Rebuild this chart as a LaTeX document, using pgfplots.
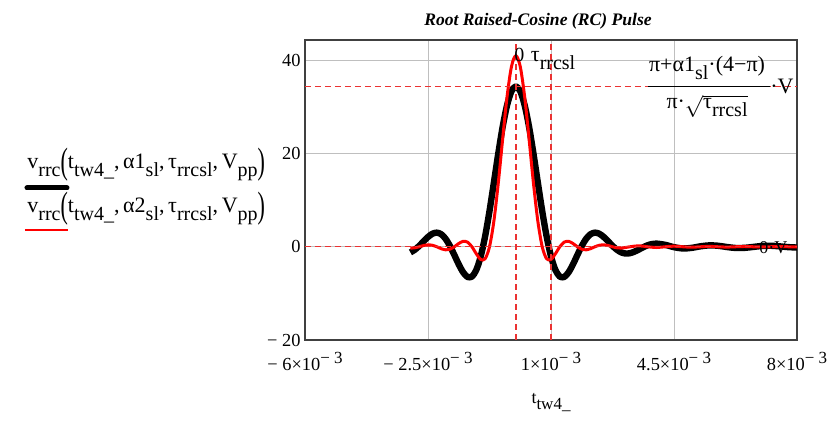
\documentclass[border=0pt]{standalone}
\usepackage{fontspec}
\setmainfont{Liberation Serif}
\usepackage{graphicx}
\usepackage{pgfplots}
\pgfplotsset{compat=1.18}
\usepackage{pgfplotstable}

\pgfplotstableread{
t v
-0.003 -1.21
-0.002875 -0.64
-0.00275 0.19
-0.002625 1.17
-0.0025 2.10
-0.002375 2.79
-0.00225 3.03
-0.002125 2.69
-0.002 1.71
-0.001875 0.16
-0.00175 -1.77
-0.001625 -3.78
-0.0015 -5.48
-0.001375 -6.48
-0.00125 -6.40
-0.001125 -4.97
-0.001 -2.07
-0.000875 2.23
-0.00075 7.66
-0.000625 13.78
-0.0005 20.02
-0.000375 25.75
-0.00025 30.37
-0.000125 33.36
0 34.40
0.000125 33.36
0.00025 30.37
0.000375 25.75
0.0005 20.02
0.000625 13.78
0.00075 7.66
0.000875 2.23
0.001 -2.07
0.001125 -4.97
0.00125 -6.40
0.001375 -6.48
0.0015 -5.48
0.001625 -3.78
0.00175 -1.77
0.001875 0.16
0.002 1.71
0.002125 2.69
0.00225 3.03
0.002375 2.79
0.0025 2.10
0.002625 1.17
0.00275 0.19
0.002875 -0.64
0.003 -1.21
0.003125 -1.45
0.00325 -1.37
0.003375 -1.05
0.0035 -0.59
0.003625 -0.10
0.00375 0.32
0.003875 0.59
0.004 0.68
0.00425 0.41
0.0045 -0.09
0.00475 -0.37
0.005 -0.24
0.00525 0.09
0.0055 0.30
0.00575 0.22
0.006 -0.05
0.00625 -0.26
0.0065 -0.24
0.00675 -0.04
0.007 0.17
0.00725 0.22
0.0075 0.09
0.00775 -0.08
0.008 -0.16
}\blackdata

\pgfplotstableread{
t v
-0.003 -0.29
-0.002875 -0.22
-0.00275 0
-0.002625 0.27
-0.0025 0.41
-0.002375 0.32
-0.00225 0
-0.002125 -0.41
-0.002 -0.65
-0.001875 -0.52
-0.00175 0
-0.001625 0.70
-0.0015 1.17
-0.001375 0.99
-0.00125 0
-0.001125 -1.51
-0.001 -2.73
-0.000875 -2.58
-0.00075 0
-0.000625 5.52
-0.0005 13.67
-0.000375 23.19
-0.00025 32.20
-0.000125 38.65
0 41.00
0.000125 38.65
0.00025 32.20
0.000375 23.19
0.0005 13.67
0.000625 5.52
0.00075 0
0.000875 -2.58
0.001 -2.73
0.001125 -1.51
0.00125 0
0.001375 0.99
0.0015 1.17
0.001625 0.70
0.00175 0
0.001875 -0.52
0.002 -0.65
0.002125 -0.41
0.00225 0
0.002375 0.32
0.0025 0.41
0.002625 0.27
0.00275 0
0.002875 -0.22
0.003 -0.29
0.00325 0
0.0035 0.21
0.00375 0
0.004 -0.16
0.00425 0
0.0045 0.13
0.00475 0
0.005 -0.10
0.00525 0
0.0055 0.085
0.00575 0
0.006 -0.07
0.00625 0
0.0065 0.06
0.00675 0
0.007 -0.05
0.00725 0
0.0075 0.05
0.00775 0
0.008 -0.04
}\reddata

\definecolor{mk}{RGB}{235,50,50}
\newcommand{\sub}[1]{\raisebox{-4pt}{\fontsize{10}{12}\selectfont #1}}
\newcommand{\xsub}[1]{\raisebox{-3pt}{\fontsize{8.5}{10}\selectfont #1}}
\newcommand{\bigp}[1]{\raisebox{-2.2pt}{\scalebox{1}[1.67]{#1}}}
\newcommand{\sci}[2]{#1×10\raisebox{3.5pt}{\fontsize{8.5}{9}\selectfont − #2}}
\tikzset{mkline/.style={color=mk, line width=0.6pt, dash pattern=on 3pt off 2pt}}

\begin{document}
\fontsize{9}{11}\selectfont
\begin{tikzpicture}
\begin{axis}[
  scale only axis, width=246pt, height=150pt,
  xmin=-0.006, xmax=0.008, ymin=-20, ymax=44.35,
  scaled x ticks=false,
  xtick={-0.006,-0.0025,0.001,0.0045,0.008},
  xticklabels={\sci{− 6}{3},\sci{− 2.5}{3},\sci{1}{3},\sci{4.5}{3},\sci{8}{3}},
  ytick={-20,0,20,40},
  yticklabels={− 20,0,20,40},
  grid=major, major grid style={black!25, line width=0.5pt},
  major tick length=0pt,
  axis line style={black!75, line width=0.75pt},
  tick label style={font=\fontsize{9.2}{11}\selectfont},
  xticklabel style={anchor=base, yshift=-15.5pt},
  yticklabel style={anchor=east, xshift=1pt},
  xlabel={t\xsub{tw4\_}},
  xlabel style={at={(axis description cs:0.5,0)}, anchor=base, yshift=-32pt},
  title={\fontsize{8.8}{10}\selectfont\bfseries\itshape Root Raised-Cosine (RC) Pulse},
  title style={at={(axis description cs:0.5,1)}, anchor=base, yshift=1.5pt, xshift=-6.5pt},
  clip=false,
]
\addplot[black, line width=3.2pt, smooth, line join=round] table[x=t,y=v] {\blackdata};
\addplot[red, line width=1.5pt, smooth, line join=round] table[x=t,y=v] {\reddata};
\addplot[mkline, line width=0.8pt] coordinates {(0,-20) (0,44.35)};
\addplot[mkline, line width=0.8pt] coordinates {(0.001,-20) (0.001,44.35)};
\addplot[mkline] coordinates {(-0.006,34.4) (0.008,34.4)};
\addplot[mkline] coordinates {(-0.006,0) (0.008,0)};
\node[anchor=base, font=\fontsize{10}{12}\selectfont] at (axis cs:0.0001,39.8) {0};
\node[anchor=base, font=\fontsize{11}{13}\selectfont] at (axis cs:0.00106,39.8) {τ\sub{rrcsl}};
\node[anchor=base, font=\fontsize{11}{13}\selectfont, inner sep=0pt] at (axis cs:0.00544,37.6) {π+α1\sub{sl}·(4−π)};
\draw[black, line width=0.5pt] (axis cs:0.00376,34.4) -- (axis cs:0.00723,34.4);
\node[anchor=base west, inner sep=0pt, font=\fontsize{11}{13}\selectfont] at (axis cs:0.00723,32.8) {·V};
\node[anchor=base, font=\fontsize{11}{13}\selectfont, inner sep=0pt] at (axis cs:0.00544,29.6) {π·$\sqrt{\hbox{τ\sub{rrcsl}}}$};
\node[anchor=base east, inner sep=0pt] at (axis cs:0.00774,-1.55) {0·V};
\end{axis}
\begin{scope}[font=\fontsize{11}{13}\selectfont]
\node[anchor=base west, inner sep=0pt] at (-139pt,85.5pt) {v\sub{rrc}\bigp{(}t\sub{tw4\_},\,α1\sub{sl},\,τ\sub{rrcsl},\,V\sub{pp}\bigp{)}};
\node[anchor=base west, inner sep=0pt] at (-139pt,63.5pt) {v\sub{rrc}\bigp{(}t\sub{tw4\_},\,α2\sub{sl},\,τ\sub{rrcsl},\,V\sub{pp}\bigp{)}};
\end{scope}
\draw[black, line width=2.5pt, line cap=round] (-139pt,76pt) -- (-119pt,76pt);
\draw[red, line width=1pt] (-140pt,55pt) -- (-118.5pt,55pt);
\pgfresetboundingbox
\useasboundingbox (-152.5pt,-41.5pt) rectangle (266pt,170pt);
\end{tikzpicture}
\end{document}
